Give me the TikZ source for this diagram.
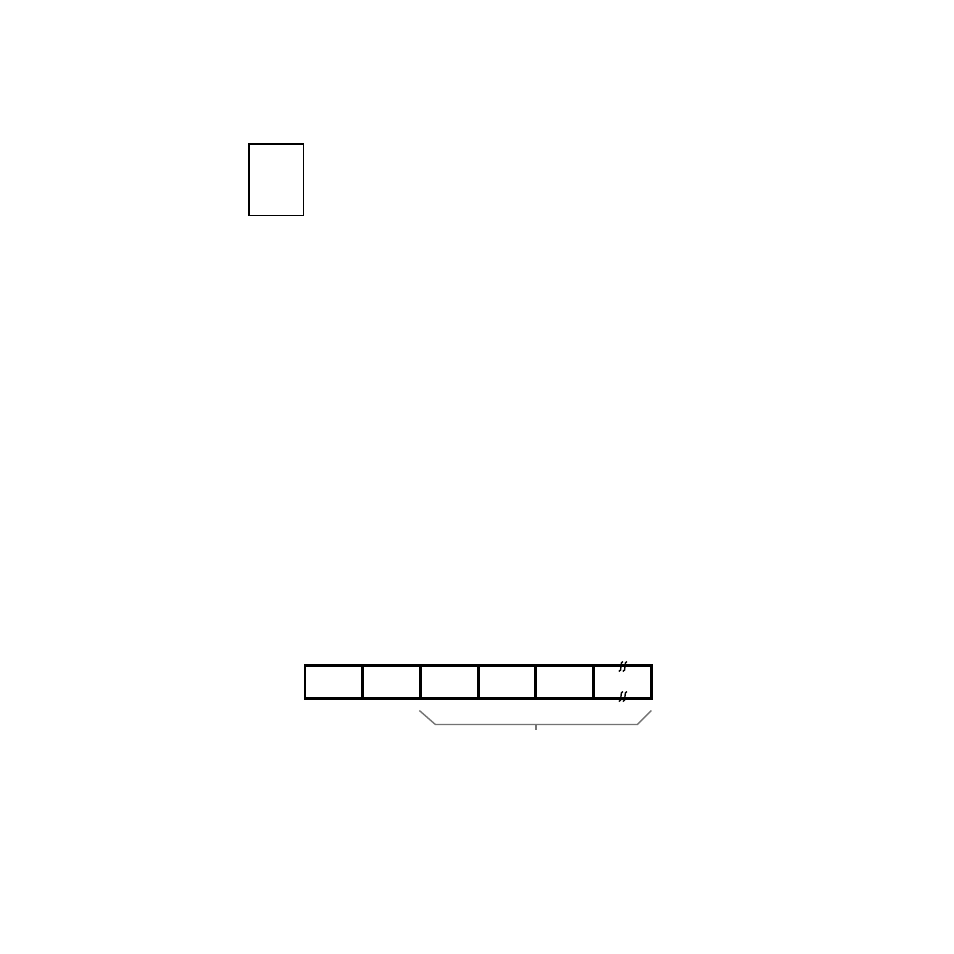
\documentclass[tikz,border=0pt]{standalone}
\usetikzlibrary{positioning, calc}
\begin{document}
\begin{tikzpicture}[x=0.01cm, y=-0.01cm, node distance = 0]

  \tikzstyle{frame}=[draw, inner sep=0, outer sep=0]
  \tikzstyle{sheet}=[frame, line width=0.45pt, minimum width=0.54cm, minimum height=0.71cm]
  \tikzstyle{cell}=[frame, line width=0.8pt, minimum width=0.577cm, minimum height=0.33cm]
  \tikzstyle{brace}=[draw=black!55, line width=0.4pt]
  \tikzstyle{cut}=[line width=0.4pt]

  \useasboundingbox (0,0) rectangle (954,954);

  \node [sheet] (page) at (276.3,179.8) {};

  \node [cell] (cell-1) at (333.8,682) {};
  \node [cell, right = of cell-1] (cell-2) {};
  \node [cell, right = of cell-2] (cell-3) {};
  \node [cell, right = of cell-3] (cell-4) {};
  \node [cell, right = of cell-4] (cell-5) {};
  \node [cell, right = of cell-5] (cell-6) {};

  % brace under the last four cells
  \coordinate (brace-l) at ($(cell-3.south west)+(-1,12)$);
  \coordinate (brace-r) at ($(cell-6.south east)+(0,12)$);
  \coordinate (brace-m) at ($(cell-5.south west)+(0,26)$);
  \draw [brace] (brace-l) -- ++(16,14) -- ($(brace-r)+(-14,14)$) -- (brace-r);
  \draw [brace] (brace-m) -- ++(0,5);

  % break marks on the open cell
  \foreach \side/\dy in {north/1, south/-2}
    \foreach \dx in {-2, 2}
      \draw [cut] ($(cell-6.\side)+(\dx,\dy)+(-1.5,5)$) .. controls +(3.5,0) and +(-3.5,0) .. ($(cell-6.\side)+(\dx,\dy)+(2.5,-5)$);

\end{tikzpicture}
\end{document}
